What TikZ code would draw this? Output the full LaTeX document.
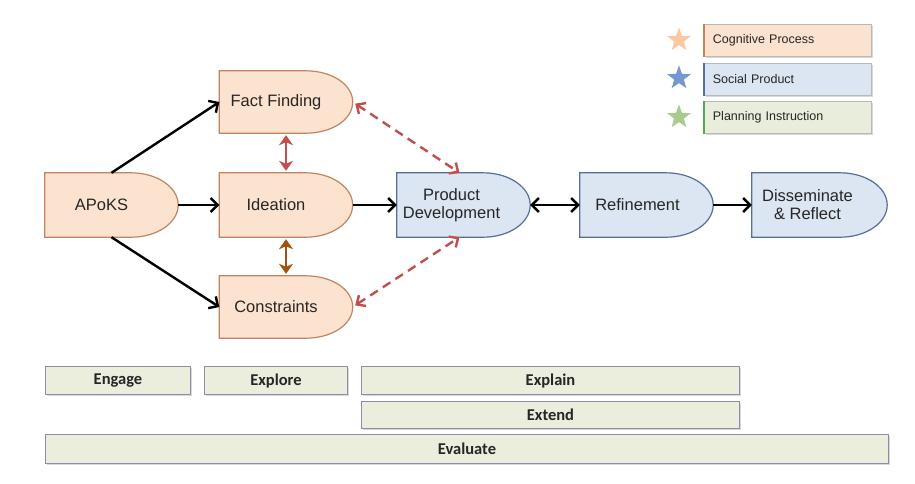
\documentclass[tikz,border=0pt]{standalone}
\usepackage{fontspec}
\setmainfont{Liberation Sans}
\newfontfamily\calib{Carlito}
\usetikzlibrary{arrows.meta,calc,shapes.geometric,shadows}
\pgfdeclarelayer{bg}
\pgfsetlayers{bg,main}
\definecolor{cogfill}{HTML}{FCE3CF}
\definecolor{cogline}{HTML}{BF8460}
\definecolor{socfill}{HTML}{DCE6F2}
\definecolor{socline}{HTML}{566F99}
\definecolor{planfill}{HTML}{E8EEDB}
\definecolor{barfill}{HTML}{EBEEDD}
\definecolor{barline}{HTML}{8E8CA6}
\definecolor{redarr}{HTML}{C0504D}
\definecolor{brownarr}{HTML}{A0530F}
\definecolor{txt}{HTML}{262626}
\definecolor{starpeach}{HTML}{FAC9A2}
\definecolor{starblue}{HTML}{7399D0}
\definecolor{stargreen}{HTML}{A9CC8D}
\newcommand\dshape[2]{%
  \path[#2] (#1.south west) -- (#1.north west) -- ($(#1.north east)+(-47,0)$)
    .. controls ($(#1.north east)+(-21,0)$) and ($(#1.east)+(0,-17.7)$) .. (#1.east)
    .. controls ($(#1.east)+(0,17.7)$) and ($(#1.south east)+(-21,0)$) .. ($(#1.south east)+(-47,0)$) -- cycle;}
\tikzset{
  procbox/.style={minimum width=133pt, minimum height=64pt, inner sep=0pt},
  lbl/.style={text=txt, font=\fontsize{16.5}{18}\selectfont, align=center, inner sep=0pt},
  cogshape/.style={fill=cogfill, draw=cogline, line width=1.2pt},
  socshape/.style={fill=socfill, draw=socline, line width=1.2pt},
  conn/.style={line width=2.4pt, black},
  tip/.style={-{Straight Barb[length=7pt,width=14pt]}},
  dtip/.style={{Straight Barb[length=7pt,width=14pt]}-{Straight Barb[length=7pt,width=14pt]}},
  rdash/.style={line width=2.4pt, redarr, dash pattern=on 9pt off 6pt, {Straight Barb[length=7pt,width=13pt]}-{Straight Barb[length=7pt,width=13pt]}},
  vsmall/.style={line width=2.6pt, {Stealth[length=10pt,width=14pt,inset=3pt]}-{Stealth[length=10pt,width=14pt,inset=3pt]}, shorten <=2pt, shorten >=2pt},
  legbox/.style={anchor=north west, minimum height=32pt, text width=150pt, inner xsep=8.5pt, align=left,
    draw=gray!55, line width=0.8pt, text=txt, font=\fontsize{12.5}{14}\selectfont,
    drop shadow={shadow xshift=1.5pt, shadow yshift=-1.5pt, opacity=0.3}},
  legstar/.style={star, star points=5, star point ratio=2.45, minimum size=25pt, inner sep=0pt, draw=none},
  bar/.style={anchor=north west, fill=barfill, draw=barline, line width=1pt, inner sep=0pt, text=txt,
    font=\calib\bfseries\fontsize{16.5}{18}\selectfont,
    drop shadow={shadow xshift=1.5pt, shadow yshift=-1.5pt, opacity=0.3}}
}
\begin{document}
\begin{tikzpicture}[x=1pt,y=-1pt]
\useasboundingbox (0,0) rectangle (915,483);

% process nodes
\node[procbox, label={[lbl,xshift=-10pt]center:APoKS}] (apoks) at (111.5,205) {};
\node[procbox, minimum height=62pt, label={[lbl,xshift=-10pt]center:Fact Finding}] (ff) at (286,102) {};
\node[procbox, label={[lbl,xshift=-10pt]center:Ideation}] (idea) at (286,205) {};
\node[procbox, minimum height=62pt, label={[lbl,xshift=-10pt]center:Constraints}] (cons) at (286,307) {};
\node[procbox, label={[lbl,xshift=-12pt]center:Product\\Development}] (pd) at (463.5,205) {};
\node[procbox, label={[lbl,xshift=-9pt]center:Refinement}] (ref) at (646.5,205) {};
\node[procbox, minimum width=135pt, label={[lbl,xshift=-12pt]center:Disseminate\\\& Reflect}] (dis) at (819.5,205) {};

\begin{pgfonlayer}{bg}
  \fill[white] (0,0) rectangle (915,483);
  \dshape{apoks}{cogshape}
  \dshape{ff}{cogshape}
  \dshape{idea}{cogshape}
  \dshape{cons}{cogshape}
  \dshape{pd}{socshape}
  \dshape{ref}{socshape}
  \dshape{dis}{socshape}
\end{pgfonlayer}

% connectors
\draw[conn,tip] (apoks.north) -- (ff.west);
\draw[conn,tip] (apoks.east) -- (idea.west);
\draw[conn,tip] (apoks.south) -- (cons.west);
\draw[conn,tip] (idea.east) -- (pd.west);
\draw[conn,dtip] (pd.east) -- (ref.west);
\draw[conn,tip] (ref.east) -- (dis.west);
\draw[rdash, shorten <=3pt] (ff.east) -- ([xshift=-4pt]pd.north);
\draw[rdash, shorten <=3pt] (cons.east) -- ([xshift=-4pt]pd.south);
\draw[vsmall, redarr] (ff.south) -- (idea.north);
\draw[vsmall, brownarr] (idea.south) -- (cons.north);

% legend
\node[legstar, fill=starpeach] (st1) at (679,40) {};
\node[legstar, fill=starblue] (st2) at (679,78) {};
\node[legstar, fill=stargreen] (st3) at (679,117) {};
\node[legbox, fill=cogfill] (lg1) at (704,24) {Cognitive Process};
\node[legbox, fill=socfill] (lg2) at (704,63) {Social Product};
\node[legbox, fill=planfill] (lg3) at (704,101) {Planning Instruction};
\draw[cogline, line width=1.2pt] (lg1.north west) -- (lg1.south west);
\draw[socline, line width=1.2pt] (lg2.north west) -- (lg2.south west);
\draw[gray!70!green, line width=1.2pt] (lg3.north west) -- (lg3.south west);

% 5E bars
\node[bar, minimum width=145pt, minimum height=28pt] (engage) at (45,366) {Engage};
\node[bar, minimum width=143pt, minimum height=28pt] (explore) at (204,366) {Explore};
\node[bar, minimum width=378pt, minimum height=28pt] (explain) at (361,366) {Explain};
\node[bar, minimum width=378pt, minimum height=27pt] (extend) at (361,401) {Extend};
\node[bar, minimum width=843pt, minimum height=29pt] (evaluate) at (45,434) {Evaluate};
\end{tikzpicture}
\end{document}
